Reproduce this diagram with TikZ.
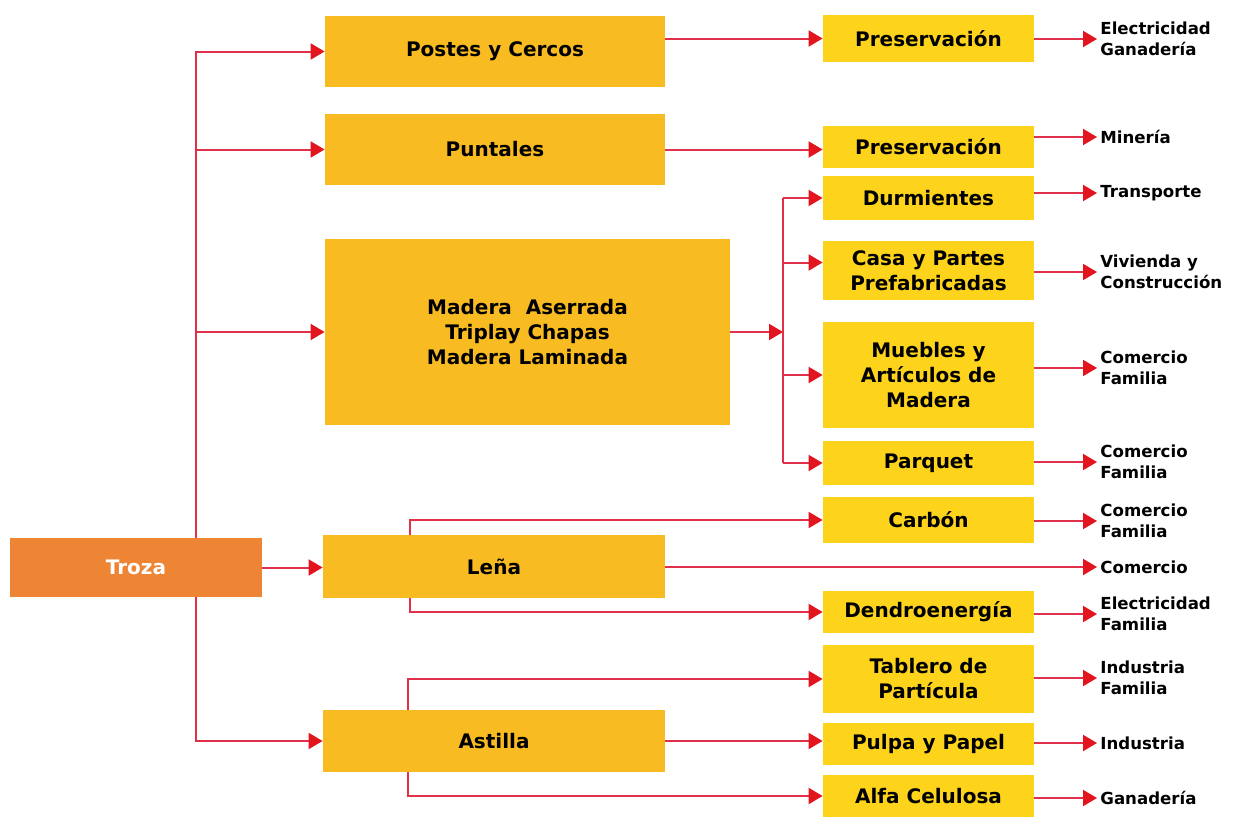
\documentclass[tikz,border=0pt]{standalone}
\usepackage{fontspec}
\setmainfont{DejaVu Sans}
\usetikzlibrary{arrows.meta}
\definecolor{boxorange}{HTML}{F8BB22}
\definecolor{boxyellow}{HTML}{FDD31C}
\definecolor{trozaorange}{HTML}{EE8534}
\definecolor{linered}{HTML}{E0304A}
\definecolor{tipred}{HTML}{E2141E}
\begin{document}
\begin{tikzpicture}[x=0.5pt,y=-0.5pt,
	sz/.style 2 args={minimum width=#1pt,minimum height=#2pt},
	prod/.style={rectangle,fill=boxorange,inner sep=0pt,align=center,font=\bfseries\fontsize{10}{12.5}\selectfont},
	sub/.style={prod,fill=boxyellow,sz={105.5}{#1}},
	sector/.style={anchor=west,inner sep=1.5pt,align=left,font=\bfseries\fontsize{8.3}{10.5}\selectfont},
	wire/.style={draw=linered,line width=1pt},
	conn/.style={wire,-{Triangle[length=7pt,width=8pt,color=tipred]}}]
	  \useasboundingbox (0,0) rectangle (1242,819);
	  \node (T) [prod,fill=trozaorange,text=white,sz={126}{29.5}] at (136,567.5) {Troza};
	  \node (PC) [prod,sz={170}{35.5}] at (495,51.5) {Postes y Cercos};
	  \node (Pu) [prod,sz={170}{35.5}] at (495,149.5) {Puntales};
	  \node (MA) [prod,sz={202.5}{93}] at (527.5,332) {Madera\ \ Aserrada\\Triplay Chapas\\Madera Laminada};
	  \node (Le) [prod,sz={171}{31.5}] at (494,566.5) {Leña};
	  \node (As) [prod,sz={171}{31}] at (494,741) {Astilla};
	  \node (Pr1) [sub=23.5] at (928.5,38.5) {Preservación};
	  \node (Pr2) [sub=21] at (928.5,147) {Preservación};
	  \node (Du) [sub=22] at (928.5,198) {Durmientes};
	  \node (CP) [sub=29.5] at (928.5,270.5) {Casa y Partes\\Prefabricadas};
	  \node (MU) [sub=53] at (928.5,375) {Muebles y\\Artículos de\\Madera};
	  \node (Pa) [sub=22] at (928.5,463) {Parquet};
	  \node (Ca) [sub=23] at (928.5,520) {Carbón};
	  \node (De) [sub=21] at (928.5,612) {Dendroenergía};
	  \node (TP) [sub=34] at (928.5,679) {Tablero de\\Partícula};
	  \node (PP) [sub=21] at (928.5,744) {Pulpa y Papel};
	  \node (AC) [sub=21] at (928.5,796) {Alfa Celulosa};
	  \node (S1) [sector] at (1097,39) {Electricidad\\Ganadería};
	  \node (S2) [sector] at (1097,137) {Minería};
	  \node (S3) [sector] at (1097,193) {Transporte};
	  \node (S4) [sector] at (1097,272) {Vivienda y\\Construcción};
	  \node (S5) [sector] at (1097,368) {Comercio\\Familia};
	  \node (S6) [sector] at (1097,462) {Comercio\\Familia};
	  \node (S7) [sector] at (1097,521) {Comercio\\Familia};
	  \node (S8) [sector] at (1097,567) {Comercio};
	  \node (S9) [sector] at (1097,614) {Electricidad\\Familia};
	  \node (S10) [sector] at (1097,678) {Industria\\Familia};
	  \node (S11) [sector] at (1097,743) {Industria};
	  \node (S12) [sector] at (1097,798) {Ganadería};
	  \coordinate (b) at (196,0);
	  \coordinate (m) at (783,332);
	  \coordinate (l) at (410,0);
	  \coordinate (a) at (408,0);
	  \draw[conn] (T.north -| b) |- (PC.west);
	  \draw[conn] (T.north -| b) |- (Pu.west);
	  \draw[conn] (T.north -| b) |- (MA.west);
	  \draw[conn] (T.south -| b) |- (As.west);
	  \draw[conn] (T.east) -- (T.east -| Le.west);
	  \draw[conn] (PC.east |- Pr1) -- (Pr1.west);
	  \draw[conn] (Pu.east) -- (Pu.east -| Pr2.west);
	  \draw[conn] (MA.east |- m) -- (m);
	  \draw[wire] (m |- Du) -- (m |- Pa);
	  \draw[conn] (m |- Du) -- (Du.west);
	  \draw[conn] ([yshift=4pt]m |- CP.west) -- ([yshift=4pt]CP.west);
	  \draw[conn] (m |- MU) -- (MU.west);
	  \draw[conn] (m |- Pa) -- (Pa.west);
	  \draw[conn] (Le.north -| l) |- (Ca.west);
	  \draw[conn] (Le.south -| l) |- (De.west);
	  \draw[conn] (Le.east |- S8.west) -- (S8.west);
	  \draw[conn] (As.north -| a) |- (TP.west);
	  \draw[conn] (As.south -| a) |- (AC.west);
	  \draw[conn] (As.east) -- (As.east -| PP.west);
	  \draw[conn] (Pr1.east |- S1.west) -- (S1.west);
	  \draw[conn] (Pr2.east |- S2.west) -- (S2.west);
	  \draw[conn] (Du.east |- S3.west) -- (S3.west);
	  \draw[conn] (CP.east |- S4.west) -- (S4.west);
	  \draw[conn] (MU.east |- S5.west) -- (S5.west);
	  \draw[conn] (Pa.east |- S6.west) -- (S6.west);
	  \draw[conn] (Ca.east |- S7.west) -- (S7.west);
	  \draw[conn] (De.east |- S9.west) -- (S9.west);
	  \draw[conn] (TP.east |- S10.west) -- (S10.west);
	  \draw[conn] (PP.east |- S11.west) -- (S11.west);
	  \draw[conn] (AC.east |- S12.west) -- (S12.west);
	\end{tikzpicture}
\end{document}
